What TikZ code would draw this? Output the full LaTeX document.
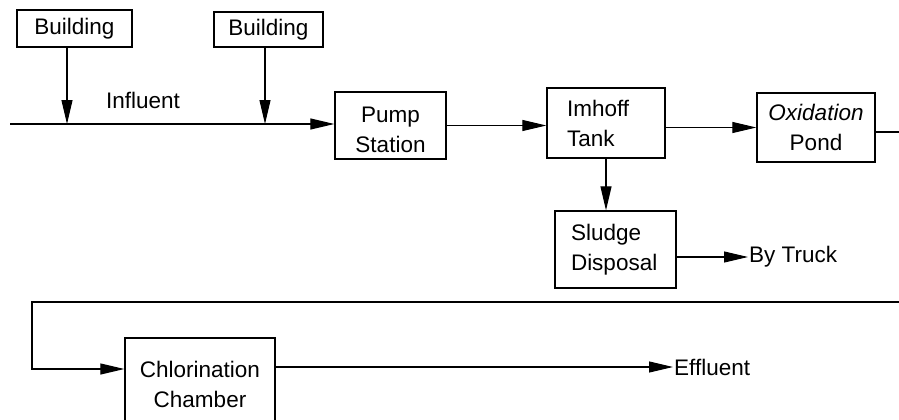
\documentclass[tikz,border=0pt]{standalone}
\usepackage{fontspec}
\setmainfont{Liberation Sans}
\usetikzlibrary{arrows.meta,calc}
\begin{document}
\begin{tikzpicture}[x=1pt,y=-1pt,
  every node/.style={font=\fontsize{22.5}{30}\selectfont},
  box/.style={draw,line width=1.3pt,inner sep=0pt,align=center},
  lbl/.style={inner sep=1pt},
  flow/.style={line width=1.1pt,-{Triangle[length=24pt,width=11pt]}},
  plain/.style={line width=1.1pt}]
\useasboundingbox (0,0) rectangle (899,420);
\clip (0,0) rectangle (899,420);
% boxes
\node[box,minimum width=115,minimum height=37] (b1) at (74.5,28.5) {Building};
\node[box,minimum width=109,minimum height=35] (b2) at (268.5,29.5) {Building};
\node[box,minimum width=111,minimum height=67] (pump) at (390.5,125.5) {\raisebox{-11pt}[0pt][0pt]{\begin{tabular}{@{}c@{}}Pump\\Station\end{tabular}}};
\node[box,minimum width=118,minimum height=70,text width=78pt,inner xsep=20pt,align=left] (imh) at (606,123) {Imhoff\\Tank};
\node[box,minimum width=118,minimum height=69] (ox) at (816,127.5) {\textit{Oxidation}\\Pond};
\node[box,minimum width=119,minimum height=77,text width=89pt,inner xsep=16pt,align=left] (sl) at (615.5,249.5) {Sludge\\Disposal};
\node[box,minimum width=150,minimum height=92] (ch) at (200,384) {Chlorination\\Chamber};
% labels
\node[lbl] (infl) at (143,100) {Influent};
\node[lbl,anchor=west] (truck) at (748,257) {By Truck};
\node[lbl,anchor=west] (eff) at (673,367) {Effluent};
% coordinates
\coordinate (in0) at (10,124);
\coordinate (j1) at (67,124);
\coordinate (j2) at (265,124);
\coordinate (oxout) at (899,132);
\coordinate (r1) at (899,302);
\coordinate (r2) at (32,302);
\coordinate (r3) at (32,369);
% connectors
\draw[flow] (in0) -- (in0 -| pump.west);
\draw[flow] (b1.south -| j1) -- (j1);
\draw[flow] (b2.south -| j2) -- (j2);
\draw[flow] (pump.east) -- (pump.east -| imh.west);
\draw[flow] (ox.west -| imh.east) -- (ox.west);
\draw[plain] (ox.east |- oxout) -- (oxout);
\draw[flow] (imh.south) -- (imh.south |- sl.north);
\draw[flow] (sl.east |- truck.west) -- (truck.west);
\draw[flow] (r1) -- (r2) -- (r3) -- (r3 -| ch.west);
\draw[flow] (ch.east |- eff.west) -- (eff.west);
\end{tikzpicture}
\end{document}
